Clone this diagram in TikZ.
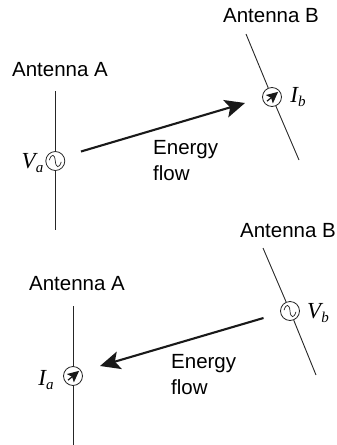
\documentclass[tikz,border=0pt]{standalone}
\usepackage{fontspec}
\setmainfont{Liberation Sans}
\newfontfamily\varfont{Liberation Serif}
\usetikzlibrary{arrows.meta}
\newcommand{\curlabel}[2]{{\varfont\fontsize{23}{23}\selectfont\itshape #1\raisebox{-0.42ex}{\fontsize{15}{15}\selectfont #2}}}
\newcommand{\sinewave}[1]{\draw[line width=0.7pt, black!85, shift={(#1)}, rotate=-8]
	(-6,0) .. controls (-5,-7) and (-1.5,-7) .. (0,0)
	.. controls (1.5,7) and (5,7) .. (6,0);}
\newcommand{\meterdart}[1]{\fill[black!90, shift={(#1)}, rotate=40]
	(8,0) -- (-3.5,5.5) -- (-1.2,0) -- (-3.5,-5.5) -- cycle;
	\draw[line width=1.2pt, black!90, shift={(#1)}, rotate=40] (-6.5,0) -- (-1,0);}

\begin{document}
\begin{tikzpicture}[
		x=1pt, y=-1pt,
		antenna/.style={line width=0.9pt, draw=black!85},
		caption node/.style={font=\fontsize{20.5}{26}\selectfont, align=left, inner sep=0pt},
		var node/.style={inner sep=0pt},
		flow/.style={line width=2.1pt, draw=black!90, -{Stealth[length=20pt, width=18pt, inset=4.5pt]}},
		ring node/.style={circle, draw=black!85, line width=0.8pt, minimum size=19pt, inner sep=0pt}
		]
		\useasboundingbox (0,0) rectangle (337,445);
		
		% upper picture
		\coordinate (a top) at (55.3,91);
		\coordinate (a bottom) at (55.3,230);
		\coordinate (b top) at (246,34);
		\coordinate (b bottom) at (299,160);
		\coordinate (flow start) at (81,151.5);
		\coordinate (flow end) at (245,103);
		\node[ring node] (source a) at (55.3,161) {};
		\node[ring node] (meter b) at (272,97) {};
		\sinewave{source a.center}
		\meterdart{meter b.center}
		\draw[antenna] (a top) -- (source a) -- (a bottom);
		\draw[antenna] (b top) -- (meter b) -- (b bottom);
		\draw[flow] (flow start) -- (flow end);
		\node[caption node] (label a) at (60,70) {Antenna A};
		\node[caption node] (label b) at (271,16) {Antenna B};
		\node[var node] (volt a) at (32.5,163) {\curlabel{V}{a}};
		\node[var node] (cur b) at (298,97) {\curlabel{I}{b}};
		\node[caption node, anchor=west] (energy a) at (153,161) {Energy\\flow};
		
		% lower picture
		\coordinate (c top) at (73,306);
		\coordinate (c bottom) at (73,445);
		\coordinate (d top) at (263,248);
		\coordinate (d bottom) at (316,375);
		\coordinate (back start) at (263.5,318);
		\coordinate (back end) at (100,366);
		\node[ring node] (meter c) at (73,376) {};
		\node[ring node] (source d) at (290,311) {};
		\meterdart{meter c.center}
		\sinewave{source d.center}
		\draw[antenna] (c top) -- (meter c) -- (c bottom);
		\draw[antenna] (d top) -- (source d) -- (d bottom);
		\draw[flow] (back start) -- (back end);
		\node[caption node] (label c) at (77,284) {Antenna A};
		\node[caption node] (label d) at (288,231) {Antenna B};
		\node[var node] (cur c) at (46,380) {\curlabel{I}{a}};
		\node[var node] (volt d) at (318,313) {\curlabel{V}{b}};
		\node[caption node, anchor=west] (energy c) at (171,375) {Energy\\flow};
\end{tikzpicture}
\end{document}
